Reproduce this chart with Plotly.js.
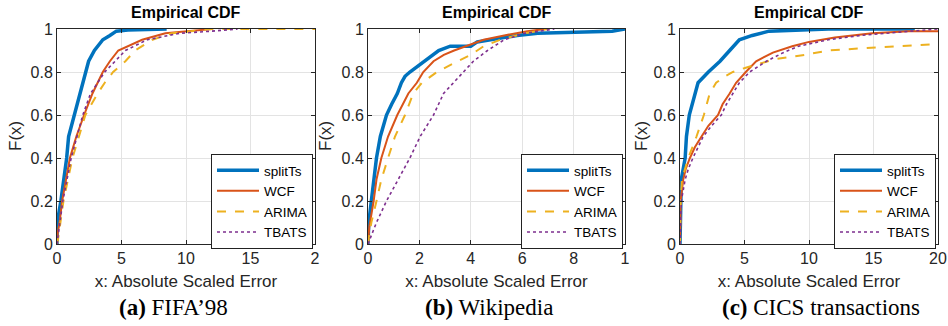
<!DOCTYPE html>
<html>
<head>
<meta charset="utf-8">
<script src="https://cdn.plot.ly/plotly-3.0.1.min.js"></script>
<style>html,body{margin:0;padding:0;background:#fff;}#chart{width:948px;height:326px;}</style>
</head>
<body>
<div id="chart"></div>
<script>
// ---- data ----
const seriesNames = ["splitTs", "WCF", "ARIMA", "TBATS"];
const panelTitles = ["Empirical CDF", "Empirical CDF", "Empirical CDF"];
const captions = ["<b>(a)</b> FIFA’98", "<b>(b)</b> Wikipedia", "<b>(c)</b> CICS transactions"];
const xTickVals = [[0, 5, 10, 15, 20], [0, 2, 4, 6, 8, 10], [0, 5, 10, 15, 20]];
const xTickText = [["0", "5", "10", "15", "2"], ["0", "2", "4", "6", "8", "1"], ["0", "5", "10", "15", "20"]];
const yTickVals = [0, 0.2, 0.4, 0.6, 0.8, 1];
const yTickText = ["0", "0.2", "0.4", "0.6", "0.8", "1"];
const xRanges = [[0, 20], [0, 10], [0, 20]];

// Panel (a) FIFA'98
const a_splitTs_x = [0, 0.02, 0.3, 0.75, 0.9, 1.35, 1.8, 2.2, 2.45, 2.9, 3.55, 4.1, 4.6, 5.5, 8.5];
const a_splitTs_F = [0, 0.1, 0.2, 0.4, 0.5, 0.6, 0.7, 0.8, 0.85, 0.9, 0.95, 0.97, 0.99, 0.995, 1];
const a_WCF_x = [0, 0.05, 0.2, 0.4, 1.0, 1.5, 2.1, 2.75, 3.55, 4.1, 4.75, 5.8, 6.6, 8.4, 10, 12];
const a_WCF_F = [0, 0.05, 0.1, 0.2, 0.4, 0.5, 0.6, 0.7, 0.8, 0.85, 0.9, 0.93, 0.95, 0.98, 0.99, 1];
const a_ARIMA_x = [0, 0.1, 0.5, 1.2, 1.7, 2.2, 3.15, 3.7, 4.35, 5.3, 6.05, 7.4, 8.9, 10.5, 12, 20];
const a_ARIMA_F = [0, 0.03, 0.2, 0.4, 0.5, 0.6, 0.7, 0.75, 0.8, 0.85, 0.9, 0.95, 0.98, 0.99, 1, 1];
const a_TBATS_x = [0, 0.1, 0.45, 1.1, 2.0, 2.6, 3.7, 4.5, 5.3, 7.0, 9.5, 12, 14];
const a_TBATS_F = [0, 0.05, 0.2, 0.4, 0.6, 0.7, 0.8, 0.85, 0.9, 0.95, 0.98, 0.99, 1];

// Panel (b) Wikipedia
const b_splitTs_x = [0, 0.03, 0.13, 0.24, 0.33, 0.48, 0.72, 0.92, 1.14, 1.3, 1.44, 1.63, 1.96, 2.2, 2.75, 3.2, 4.0, 4.25, 4.8, 5.8, 6.6, 8.2, 9.5, 10];
const b_splitTs_F = [0, 0.1, 0.2, 0.3, 0.4, 0.5, 0.6, 0.65, 0.7, 0.75, 0.78, 0.8, 0.83, 0.85, 0.9, 0.92, 0.92, 0.94, 0.95, 0.97, 0.98, 0.985, 0.99, 1];
const b_WCF_x = [0, 0.05, 0.22, 0.33, 0.52, 0.78, 1.14, 1.57, 1.9, 2.15, 2.55, 2.95, 3.35, 4.0, 4.5, 5.3, 6.2, 6.9];
const b_WCF_F = [0, 0.08, 0.2, 0.3, 0.4, 0.5, 0.6, 0.7, 0.75, 0.8, 0.85, 0.88, 0.9, 0.93, 0.95, 0.97, 0.99, 1];
const b_ARIMA_x = [0, 0.13, 0.33, 0.52, 0.78, 1.05, 1.44, 1.76, 2.1, 2.68, 3.33, 4.0, 4.5, 5.15, 6.1, 7.0];
const b_ARIMA_F = [0, 0.1, 0.2, 0.3, 0.4, 0.5, 0.6, 0.7, 0.75, 0.8, 0.84, 0.88, 0.92, 0.95, 0.98, 1];
const b_TBATS_x = [0, 0.33, 0.72, 1.18, 1.63, 2.03, 2.55, 2.94, 3.33, 3.73, 4.1, 4.65, 5.3, 6.1, 7.25];
const b_TBATS_F = [0, 0.1, 0.2, 0.3, 0.4, 0.5, 0.6, 0.7, 0.75, 0.8, 0.85, 0.9, 0.95, 0.98, 1];

// Panel (c) CICS transactions
const c_splitTs_x = [0, 0.05, 0.1, 0.4, 0.5, 0.72, 1.15, 1.4, 2.2, 3.1, 3.85, 4.6, 5.6, 6.9, 11.5, 18.2];
const c_splitTs_F = [0, 0.2, 0.3, 0.4, 0.5, 0.6, 0.7, 0.75, 0.8, 0.85, 0.9, 0.95, 0.97, 0.99, 1, 1];
const c_WCF_x = [0, 0.05, 0.25, 0.45, 0.77, 1.15, 1.67, 2.2, 2.95, 3.3, 3.85, 4.35, 5.1, 5.9, 7.2, 8.7, 10, 12, 14.9, 17.7, 20];
const c_WCF_F = [0, 0.2, 0.3, 0.35, 0.4, 0.45, 0.5, 0.55, 0.6, 0.65, 0.7, 0.75, 0.8, 0.85, 0.89, 0.92, 0.94, 0.96, 0.98, 0.99, 0.99];
const c_ARIMA_x = [0, 0.05, 0.15, 0.64, 1.28, 1.85, 2.3, 2.8, 3.5, 4.1, 5.1, 6.2, 7.4, 9.7, 11.5, 14.1, 16.7, 20];
const c_ARIMA_F = [0, 0.2, 0.3, 0.4, 0.5, 0.6, 0.7, 0.75, 0.78, 0.8, 0.82, 0.84, 0.86, 0.88, 0.9, 0.91, 0.92, 0.93];
const c_TBATS_x = [0, 0.1, 0.4, 0.65, 1.0, 1.4, 1.8, 2.45, 3.2, 3.6, 4.1, 4.6, 5.4, 6.7, 8.0, 9.2, 11.5, 14, 17.9, 20];
const c_TBATS_F = [0, 0.2, 0.3, 0.35, 0.4, 0.45, 0.5, 0.55, 0.6, 0.65, 0.7, 0.75, 0.8, 0.85, 0.89, 0.92, 0.95, 0.97, 0.99, 1];

// ---- styles ----
const W = 948, H = 326;
const colors = ["#0072BD", "#D95319", "#EDB120", "#7E2F8E"];
const widths = [3.5, 2, 2, 1.6];
const dashes = ["solid", "solid", "dash", "dot"];
const fontFam = "Liberation Sans, Arial, sans-serif";
const txt = "#262626";

const panels = [
  [[a_splitTs_x, a_splitTs_F], [a_WCF_x, a_WCF_F], [a_ARIMA_x, a_ARIMA_F], [a_TBATS_x, a_TBATS_F]],
  [[b_splitTs_x, b_splitTs_F], [b_WCF_x, b_WCF_F], [b_ARIMA_x, b_ARIMA_F], [b_TBATS_x, b_TBATS_F]],
  [[c_splitTs_x, c_splitTs_F], [c_WCF_x, c_WCF_F], [c_ARIMA_x, c_ARIMA_F], [c_TBATS_x, c_TBATS_F]]
];
// pixel boxes of the plot areas
const boxes = [[57, 315], [368, 625], [680, 938]];
const plotTop = 29, plotBottom = 244;
const capX = [173, 489, 821];
const yLabX = [15, 325, 641];

const traces = [];
const layout = {
  width: W, height: H,
  margin: {l: 0, r: 0, t: 0, b: 0},
  paper_bgcolor: "#fff", plot_bgcolor: "#fff",
  font: {family: fontFam, color: txt, size: 13},
  showlegend: true,
  annotations: []
};

panels.forEach((series, p) => {
  const sfx = p === 0 ? "" : String(p + 1);
  series.forEach((s, i) => {
    traces.push({
      x: s[0], y: s[1], type: "scatter", mode: "lines",
      name: seriesNames[i],
      xaxis: "x" + sfx, yaxis: "y" + sfx,
      legend: "legend" + sfx,
      line: {color: colors[i], width: widths[i], dash: dashes[i], shape: "linear"},
      hoverinfo: "skip"
    });
  });
  const [xl, xr] = boxes[p];
  const axBase = {
    showline: true, linecolor: txt, linewidth: 1, mirror: "ticks",
    ticks: "inside", ticklen: 4, tickcolor: txt, tickwidth: 1,
    showgrid: true, gridcolor: "#e3e3e3", gridwidth: 1,
    zeroline: false, tickfont: {family: fontFam, size: 16, color: txt}
  };
  layout["xaxis" + sfx] = Object.assign({}, axBase, {
    domain: [xl / W, xr / W], range: xRanges[p], anchor: "y" + sfx,
    tickmode: "array", tickvals: xTickVals[p], ticktext: xTickText[p],
    title: {text: "x: Absolute Scaled Error", font: {family: fontFam, size: 17, color: txt}, standoff: 8}
  });
  layout["yaxis" + sfx] = Object.assign({}, axBase, {
    domain: [1 - plotBottom / H, 1 - plotTop / H], range: [0, 1], anchor: "x" + sfx,
    tickmode: "array", tickvals: yTickVals, ticktext: yTickText
  });
  layout["legend" + sfx] = {
    x: (xr - 2) / W, xanchor: "right", y: 1 - 154 / H, yanchor: "top",
    xref: "paper", yref: "paper",
    bgcolor: "#fff", bordercolor: "#222", borderwidth: 1,
    font: {family: fontFam, size: 13.5, color: "#000"},
    tracegroupgap: 0, itemwidth: 42,
    entrywidth: 62, entrywidthmode: "pixels"
  };
  layout.annotations.push({
    text: "<b>" + panelTitles[p] + "</b>", xref: "paper", yref: "paper",
    x: (xl + xr) / 2 / W, y: 1 - 13 / H, xanchor: "center", yanchor: "middle",
    showarrow: false, font: {family: fontFam, size: 16, color: "#000"}
  });
  layout.annotations.push({
    text: "F(x)", xref: "paper", yref: "paper", textangle: -90,
    x: yLabX[p] / W, y: 1 - 136 / H, xanchor: "center", yanchor: "middle",
    showarrow: false, font: {family: fontFam, size: 17, color: txt}
  });
  layout.annotations.push({
    text: captions[p], xref: "paper", yref: "paper",
    x: capX[p] / W, y: 1 - 307 / H, xanchor: "center", yanchor: "middle",
    showarrow: false, font: {family: "Liberation Serif, serif", size: 23, color: "#000"}
  });
});

Plotly.newPlot("chart", traces, layout, {staticPlot: true, displayModeBar: false});
</script>
</body>
</html>
